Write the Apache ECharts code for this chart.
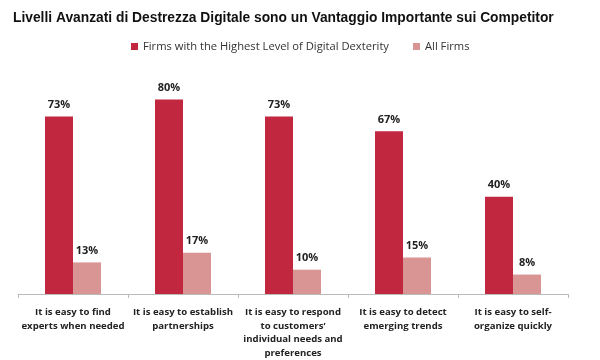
<!DOCTYPE html>
<html><head><meta charset="utf-8">
<script src="https://cdn.jsdelivr.net/npm/echarts@6/dist/echarts.min.js"></script>
<style>html,body{margin:0;padding:0;background:#fff}#c{width:600px;height:360px}</style>
</head><body><div id="c"></div>
<script>
const categories = [
  "It is easy to find\nexperts when needed",
  "It is easy to establish\npartnerships",
  "It is easy to respond\nto customers’\nindividual needs and\npreferences",
  "It is easy to detect\nemerging trends",
  "It is easy to self-\norganize quickly"
];
const highestDexterity = [73, 80, 73, 67, 40];
const allFirms = [13, 17, 10, 15, 8];
const seriesNames = ["Firms with the Highest Level of Digital Dexterity", "All Firms"];

const chart = echarts.init(document.getElementById('c'));
const labelStyle = {show: true, position: 'top', formatter: '{c}%', fontFamily: 'Open Sans', fontWeight: 'bold', fontSize: 11, color: '#222', distance: 6};
chart.setOption({
  animation: false,
  title: {text: 'Livelli Avanzati di Destrezza Digitale sono un Vantaggio Importante sui Competitor', left: 8, top: 6,
    textStyle: {fontFamily: 'Liberation Sans', fontWeight: 'bold', fontSize: 13.8, color: '#111'}},
  legend: {top: 36, left: 126, itemWidth: 7, itemHeight: 7, itemGap: 24, icon: 'rect',
    textStyle: {fontFamily: 'Open Sans', fontSize: 11.2, color: '#333'}},
  grid: {left: 18, right: 32, top: 51, bottom: 65},
  xAxis: {type: 'category', data: categories,
    axisLine: {lineStyle: {color: '#bbb'}},
    axisTick: {show: true, length: 4, lineStyle: {color: '#bbb'}},
    axisLabel: {interval: 0, fontFamily: 'Open Sans', fontWeight: 'bold', fontSize: 9.6, color: '#222', lineHeight: 13.5, margin: 12}},
  yAxis: {type: 'value', min: 0, max: 100, show: false, splitLine: {show: false}},
  series: [
    {name: seriesNames[0], type: 'bar', data: highestDexterity, barWidth: 28, barGap: '0%', itemStyle: {color: '#C1273F'}, label: labelStyle},
    {name: seriesNames[1], type: 'bar', data: allFirms, barWidth: 28, itemStyle: {color: '#D99594'}, label: labelStyle}
  ]
});
</script></body></html>
